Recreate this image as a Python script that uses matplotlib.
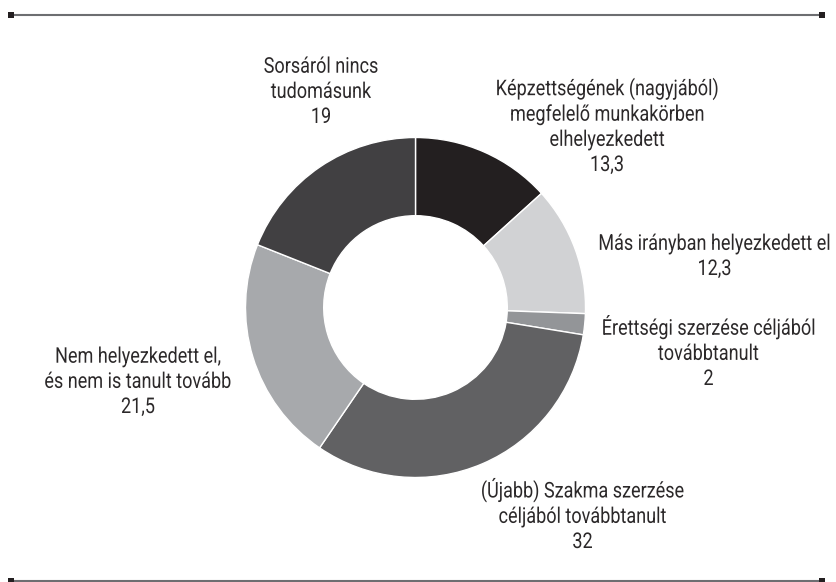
import matplotlib
matplotlib.use("Agg")
import matplotlib.pyplot as plt
from matplotlib.patheffects import AbstractPathEffect
from matplotlib.transforms import Affine2D

categories = [
    "Képzettségének (nagyjából)\nmegfelelő munkakörben\nelhelyezkedett",
    "Más irányban helyezkedett el",
    "Érettségi szerzése céljából\ntovábbtanult",
    "(Újabb) Szakma szerzése\ncéljából továbbtanult",
    "Nem helyezkedett el,\nés nem is tanult tovább",
    "Sorsáról nincs\ntudomásunk",
]
values = [13.3, 12.3, 2, 32, 21.5, 19]
value_labels = ["13,3", "12,3", "2", "32", "21,5", "19"]
colors = ["#231f20", "#d1d2d4", "#939598", "#616163", "#a7a9ac", "#414042"]

plt.rcParams['font.family'] = ['Roboto', 'DejaVu Sans']


class Tall(AbstractPathEffect):
    """Draw text lines taller (condensed look), keeping the baseline fixed."""
    def __init__(self, sy):
        super().__init__()
        self.sy = sy

    def draw_path(self, renderer, gc, tpath, affine, rgbFace=None):
        t = Affine2D().scale(1, self.sy) + affine
        renderer.draw_path(gc, tpath, t, rgbFace)


W, H = 837, 582
fig = plt.figure(figsize=(W / 100, H / 100), dpi=100)
ax = fig.add_axes([0, 0, 1, 1])

cx, cy = 415.5, H - 307.5
R = 170
ax.pie(values, colors=colors, startangle=90, counterclock=False,
       center=(cx, cy), radius=R, frame=True,
       wedgeprops=dict(width=R * 0.46, edgecolor='white', linewidth=1.0))
ax.set_xlim(0, W)
ax.set_ylim(0, H)
ax.axis('off')

# (centre x, baseline y of last line) in pixel coordinates from the top
label_pos = [
    (607, 171),
    (714.5, 275),
    (708.5, 385),
    (582.5, 548),
    (138, 413),
    (321, 123),
]
for cat, vl, (lx, ly) in zip(categories, value_labels, label_pos):
    ax.text(lx, H - ly, cat + "\n" + vl, ha='center', va='baseline',
            multialignment='center', fontweight='normal',
            fontsize=13, color='#2b2829', linespacing=1.51,
            path_effects=[Tall(1.2)])

for y in (15, 580.5):
    ax.plot([11, 822], [H - y, H - y], color='#6d6e71', lw=1.5,
            solid_capstyle='butt', zorder=3)
    ax.plot([11, 822], [H - y, H - y], ls='none', marker='s', ms=4.4,
            color='#231f20', mew=0, zorder=4)

fig.savefig("out.png", dpi=100)
